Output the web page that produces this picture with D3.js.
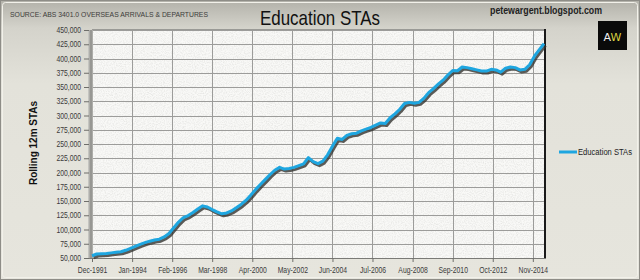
<!DOCTYPE html>
<html>
<head>
<meta charset="utf-8">
<script src="https://cdn.jsdelivr.net/npm/d3@7"></script>
<style>
  body { margin: 0; background: #e5e4dc; }
  svg { display: block; }
</style>
</head>
<body>
<div id="chart"></div>
<script>
// quarterly readings, Dec-1991 .. Jun-2015 (rolling 12m education short term arrivals)
const startMonth = "Dec-1991";
const stepMonths = 3;
const values = [
  54000, 57000, 57500, 58000, 59000, 60000, 61000, 63500, 67000, 70500,
  74000, 77000, 79500, 81500, 83000, 87000, 93000, 103000, 113000, 121000,
  124500, 130000, 136000, 141500, 139500, 135000, 131000, 127500, 129000, 132500,
  138000, 144000, 151000, 160000, 170000, 179000, 187500, 196000, 204000, 209000,
  206000, 207000, 209000, 212000, 215000, 226000, 219000, 215500, 220000, 231000,
  246000, 260000, 258000, 265000, 268000, 269000, 273000, 276000, 279000, 283000,
  287000, 286000, 296000, 303000, 311000, 321000, 323000, 321500, 323000, 330000,
  340000, 347000, 355000, 362000, 371000, 379000, 378500, 385000, 384000, 382000,
  380000, 378000, 378000, 381000, 380000, 376000, 383000, 385000, 384000, 380000,
  381000, 389000, 404000, 415000, 426000
];
const tickLabels = ["Dec-1991", "Jan-1994", "Feb-1996", "Mar-1998", "Apr-2000", "May-2002",
  "Jun-2004", "Jul-2006", "Aug-2008", "Sep-2010", "Oct-2012", "Nov-2014"];
const yTicks = [50000, 75000, 100000, 125000, 150000, 175000, 200000, 225000, 250000,
  275000, 300000, 325000, 350000, 375000, 400000, 425000, 450000];
const seriesName = "Education STAs";

const W = 640, H = 280;
const plot = {left: 92, right: 544, top: 30, bottom: 258};
const sans = "'Liberation Sans', Arial, sans-serif";

// squeeze a text horizontally (the original uses a narrow face)
function squeeze(sel, k) {
  sel.each(function () {
    d3.select(this).attr("textLength", this.getComputedTextLength() * k)
      .attr("lengthAdjust", "spacingAndGlyphs");
  });
}

const parse = d3.timeParse("%b-%Y");
const t0 = parse(startMonth);
const data = values.map((v, i) => ({date: d3.timeMonth.offset(t0, i * stepMonths), value: v}));

const x = d3.scaleTime()
  .domain([t0, data[data.length - 1].date])
  .range([plot.left, plot.right]);
const y = d3.scaleLinear()
  .domain([50000, 450000])
  .range([plot.bottom, plot.top]);

const svg = d3.select("#chart").append("svg")
  .attr("width", W).attr("height", H);

let defs = svg.append("defs");
let bg = defs.append("linearGradient").attr("id", "bg")
  .attr("x1", 0).attr("y1", 0).attr("x2", 0).attr("y2", 1);
bg.append("stop").attr("offset", "0").attr("stop-color", "#b2b1a9");
bg.append("stop").attr("offset", "0.1").attr("stop-color", "#d4d3cb");
bg.append("stop").attr("offset", "0.3").attr("stop-color", "#e3e2da");
bg.append("stop").attr("offset", "1").attr("stop-color", "#e6e5dd");

let wall = defs.append("linearGradient").attr("id", "wall")
  .attr("x1", 0).attr("y1", 0).attr("x2", 1).attr("y2", 0);
wall.append("stop").attr("offset", "0").attr("stop-color", "#d0d0cc");
wall.append("stop").attr("offset", "0.6").attr("stop-color", "#8c8c88");
wall.append("stop").attr("offset", "1").attr("stop-color", "#b8b8b4");

// grainy paper look of the plot area
let grain = defs.append("filter").attr("id", "grain")
  .attr("x", 0).attr("y", 0).attr("width", 1).attr("height", 1);
grain.append("feTurbulence").attr("type", "fractalNoise")
  .attr("baseFrequency", 0.9).attr("numOctaves", 2).attr("seed", 3).attr("result", "n");
grain.append("feColorMatrix").attr("in", "n").attr("type", "matrix")
  .attr("values", "0 0 0 0 0.6  0 0 0 0 0.6  0 0 0 0 0.58  0 0 0 -1.6 1.0")
  .attr("result", "dots");
grain.append("feComposite").attr("in", "dots").attr("in2", "SourceGraphic").attr("operator", "in");

svg.append("rect").attr("width", W).attr("height", H).attr("fill", "url(#bg)");
svg.append("rect").attr("x", 2.5).attr("y", 2.5).attr("width", W - 5).attr("height", H - 5)
  .attr("rx", 3).attr("fill", "none").attr("stroke", "#f2f1ea").attr("stroke-width", 1);
svg.append("rect").attr("x", 0.5).attr("y", 0.5).attr("width", W - 1).attr("height", H - 1)
  .attr("fill", "none").attr("stroke", "#8e8d87");

// plot area
svg.append("rect")
  .attr("x", plot.left).attr("y", plot.top)
  .attr("width", plot.right - plot.left).attr("height", plot.bottom - plot.top)
  .attr("fill", "#f9f9f7");
svg.append("rect")
  .attr("x", plot.left).attr("y", plot.top)
  .attr("width", plot.right - plot.left).attr("height", plot.bottom - plot.top)
  .attr("fill", "#fff").attr("filter", "url(#grain)").attr("opacity", 0.5);

// gridlines
svg.append("g").selectAll("line").data(yTicks).join("line")
  .attr("x1", plot.left).attr("x2", plot.right)
  .attr("y1", d => Math.round(y(d)) + 0.5).attr("y2", d => Math.round(y(d)) + 0.5)
  .attr("stroke", "#9c9c9a").attr("stroke-width", 1);
svg.append("g").selectAll("line").data(tickLabels.map(parse)).join("line")
  .attr("y1", plot.top).attr("y2", plot.bottom)
  .attr("x1", d => Math.round(x(d)) + 0.5).attr("x2", d => Math.round(x(d)) + 0.5)
  .attr("stroke", "#9c9c9a").attr("stroke-width", 1);

// 3d-ish left wall and frame
svg.append("rect").attr("x", plot.left - 4).attr("y", plot.top)
  .attr("width", 5).attr("height", plot.bottom - plot.top + 1).attr("fill", "url(#wall)");
svg.append("line").attr("x1", plot.left).attr("x2", plot.right + 1)
  .attr("y1", plot.top - 0.5).attr("y2", plot.top - 0.5).attr("stroke", "#9a9a96");
svg.append("line").attr("x1", plot.right + 1).attr("x2", plot.right + 1)
  .attr("y1", plot.top - 1).attr("y2", plot.bottom + 1)
  .attr("stroke", "#1a1a1a").attr("stroke-width", 2);
svg.append("line").attr("x1", plot.left - 4).attr("x2", plot.right + 2)
  .attr("y1", plot.bottom + 0.5).attr("y2", plot.bottom + 0.5).attr("stroke", "#7a7a76");

// axes
const yAxis = d3.axisLeft(y).tickValues(yTicks).tickFormat(d3.format(",")).tickSize(5).tickPadding(3);
const gy = svg.append("g").attr("transform", `translate(${plot.left - 3},0)`).call(yAxis);
const xAxis = d3.axisBottom(x).tickValues(tickLabels.map(parse))
  .tickFormat(d3.timeFormat("%b-%Y")).tickSize(4).tickPadding(5);
const gx = svg.append("g").attr("transform", `translate(0,${plot.bottom})`).call(xAxis);
[gx, gy].forEach(g => {
  g.select(".domain").remove();
  g.selectAll(".tick line").attr("stroke", "#6e6e6a");
  g.selectAll(".tick text").attr("fill", "#3a3a3a")
    .style("font-family", sans).style("font-size", "8.5px")
    .call(squeeze, 0.8);
});

// series with drop shadow
const line = d3.line().x(d => x(d.date)).y(d => y(d.value));
svg.append("path").datum(data)
  .attr("d", line)
  .attr("transform", "translate(1.5,2)")
  .attr("fill", "none").attr("stroke", "#33332f").attr("stroke-opacity", 0.8)
  .attr("stroke-width", 3).attr("stroke-linejoin", "round");
svg.append("path").datum(data)
  .attr("d", line)
  .attr("fill", "none").attr("stroke", "#1ea6e0")
  .attr("stroke-width", 3).attr("stroke-linejoin", "round");

// texts
svg.append("text").attr("x", 10).attr("y", 17)
  .style("font-family", sans).style("font-size", "7px")
  .attr("fill", "#3c3c3a")
  .text("SOURCE: ABS 3401.0 OVERSEAS ARRIVALS & DEPARTURES")
  .attr("textLength", 198).attr("lengthAdjust", "spacingAndGlyphs");
svg.append("text").attr("x", 320).attr("y", 25).attr("text-anchor", "middle")
  .style("font-family", sans).style("font-size", "21px").attr("fill", "#111")
  .text("Education STAs")
  .attr("textLength", 120).attr("lengthAdjust", "spacingAndGlyphs");
svg.append("text").attr("x", 490).attr("y", 14)
  .style("font-family", sans).style("font-size", "10px")
  .style("font-weight", "bold").attr("fill", "#222")
  .text("petewargent.blogspot.com")
  .attr("textLength", 112).attr("lengthAdjust", "spacingAndGlyphs");

// AW logo
svg.append("rect").attr("x", 598).attr("y", 21).attr("width", 29).attr("height", 29).attr("fill", "#0a0a0a");
const logo = svg.append("text").attr("x", 612.5).attr("y", 41).attr("text-anchor", "middle")
  .style("font-family", "'DejaVu Sans', sans-serif").style("font-size", "11px");
logo.append("tspan").attr("fill", "#f0f0f0").text("A");
logo.append("tspan").attr("fill", "#d8d040").text("W");

svg.append("text")
  .attr("transform", "translate(37,143) rotate(-90)").attr("text-anchor", "middle")
  .style("font-family", sans).style("font-size", "11px")
  .style("font-weight", "bold").attr("fill", "#111")
  .text("Rolling 12m STAs")
  .attr("textLength", 84).attr("lengthAdjust", "spacingAndGlyphs");

// legend
svg.append("line").attr("x1", 559).attr("x2", 577).attr("y1", 152).attr("y2", 152)
  .attr("stroke", "#1ea6e0").attr("stroke-width", 3);
svg.append("text").attr("x", 578).attr("y", 155)
  .style("font-family", sans).style("font-size", "8.5px").attr("fill", "#222")
  .text(seriesName)
  .attr("textLength", 54).attr("lengthAdjust", "spacingAndGlyphs");
</script>
</body>
</html>
